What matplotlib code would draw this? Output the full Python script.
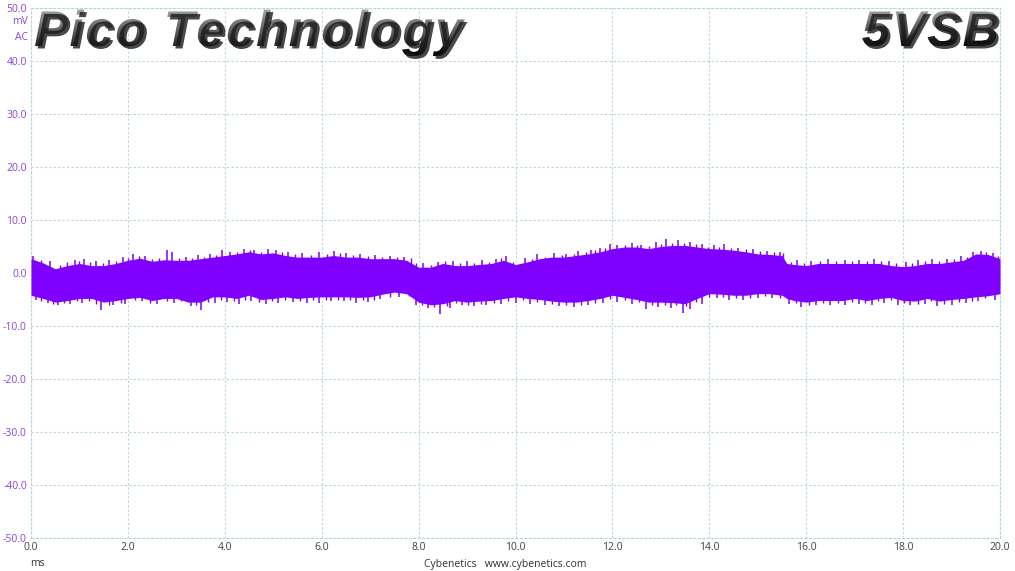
import matplotlib
matplotlib.use("Agg")
import matplotlib.pyplot as plt
import numpy as np
from matplotlib.textpath import TextPath
from matplotlib.font_manager import FontProperties, findfont, get_font
from matplotlib.patches import PathPatch
from matplotlib.path import Path
from matplotlib.transforms import Affine2D

# ---- data ----
t_env = [0.0, 0.25, 0.5, 0.75, 1.0, 1.25, 1.5, 1.75, 2.0, 2.25, 2.5, 2.75, 3.0, 3.25, 3.5, 3.75,
         4.0, 4.25, 4.5, 4.75, 5.0, 5.25, 5.5, 5.75, 6.0, 6.25, 6.5, 6.75, 7.0, 7.25, 7.5, 7.75,
         8.0, 8.25, 8.5, 8.75, 9.0, 9.25, 9.5, 9.75, 10.0, 10.25, 10.5, 10.75, 11.0, 11.25, 11.5,
         11.75, 12.0, 12.25, 12.5, 12.75, 13.0, 13.25, 13.5, 13.75, 14.0, 14.25, 14.5, 14.75,
         15.0, 15.25, 15.5, 15.6, 15.75, 16.0, 16.25, 16.5, 16.75, 17.0, 17.25, 17.5, 17.75,
         18.0, 18.25, 18.5, 18.75, 19.0, 19.25, 19.5, 19.75, 20.0]
upper_env = [2.7, 1.9, 0.8, 1.4, 1.8, 1.4, 1.4, 1.8, 2.4, 2.8, 2.2, 2.5, 2.4, 2.4, 2.7, 3.0,
             3.3, 3.6, 4.0, 3.6, 3.8, 3.3, 3.0, 3.0, 3.0, 3.3, 3.0, 3.0, 2.7, 2.7, 2.7, 2.4,
             1.1, 1.1, 1.8, 1.4, 1.4, 1.6, 1.8, 2.4, 1.6, 2.1, 2.7, 3.0, 3.0, 3.3, 3.6,
             4.0, 4.6, 4.9, 4.9, 4.6, 5.0, 5.2, 5.2, 4.9, 4.6, 4.5, 4.3, 4.0,
             3.6, 3.5, 3.3, 1.8, 1.6, 1.4, 1.8, 1.8, 1.8, 1.8, 1.8, 1.8, 1.4,
             1.2, 1.4, 1.8, 1.8, 2.1, 2.4, 3.6, 3.5, 2.7]
lower_env = [-4.2, -4.8, -5.5, -5.2, -4.8, -4.8, -5.5, -5.2, -4.8, -4.6, -5.2, -4.8, -4.8, -5.5, -5.5, -4.5,
             -4.5, -4.8, -4.2, -5.0, -4.8, -4.5, -4.8, -4.6, -4.5, -4.5, -4.5, -4.6, -4.5, -4.0, -3.6, -3.9,
             -5.5, -6.0, -5.8, -5.2, -5.5, -5.3, -5.2, -4.8, -4.5, -4.8, -5.0, -5.3, -5.5, -5.5, -5.2,
             -4.8, -4.2, -4.6, -5.0, -5.5, -5.5, -5.6, -5.8, -4.8, -3.9, -4.0, -4.2, -4.2,
             -3.9, -3.9, -4.2, -4.8, -5.2, -5.5, -5.2, -5.2, -5.2, -4.8, -5.2, -4.8, -4.6,
             -5.2, -5.3, -4.8, -5.3, -5.0, -4.8, -4.5, -4.3, -3.9]

# larger spikes (time ms, peak mV)
up_spikes = [(0.05, 3.3), (0.4, 2.3), (0.9, 2.5), (1.1, 2.6), (1.35, 2.2), (1.6, 2.4), (1.9, 3.0),
             (2.1, 3.5), (2.35, 3.2), (2.8, 4.3), (2.9, 3.9), (3.2, 3.1), (3.45, 3.4), (3.7, 3.6),
             (3.95, 4.3), (4.1, 4.0), (4.4, 4.6), (4.6, 4.3), (4.9, 4.5), (5.05, 4.4), (5.3, 3.9),
             (5.6, 3.7), (5.95, 4.0), (6.25, 4.2), (6.5, 3.8), (6.8, 3.6), (7.1, 3.4), (7.4, 3.3),
             (7.7, 3.0), (8.1, 1.8), (8.4, 2.0), (8.7, 2.3), (9.0, 2.2), (9.3, 2.5), (9.6, 2.7),
             (9.8, 3.2), (10.2, 2.8), (10.45, 3.5), (10.8, 3.7), (11.05, 3.6), (11.3, 4.1),
             (11.55, 4.4), (11.75, 4.8), (11.95, 5.5), (12.1, 5.3), (12.4, 5.6), (12.6, 5.3),
             (12.9, 5.8), (13.1, 6.5), (13.35, 6.2), (13.6, 5.9), (13.85, 5.4), (14.1, 5.3),
             (14.3, 5.4), (14.6, 4.8), (14.9, 4.5), (15.2, 4.2), (15.45, 3.9), (15.8, 2.4),
             (16.1, 2.3), (16.45, 2.6), (16.8, 2.5), (17.1, 2.4), (17.4, 2.6), (17.7, 2.3),
             (18.05, 2.0), (18.3, 2.5), (18.6, 2.6), (18.9, 2.7), (19.2, 3.2), (19.45, 4.0),
             (19.6, 4.2), (19.85, 3.8)]
lo_spikes = [(0.1, -5.0), (0.35, -5.6), (0.55, -6.0), (0.8, -5.8), (1.05, -5.6), (1.45, -7.0),
             (1.7, -6.0), (1.95, -5.8), (2.3, -5.2), (2.6, -5.8), (2.95, -5.7), (3.3, -6.3),
             (3.5, -6.9), (3.8, -5.6), (4.05, -5.4), (4.3, -5.8), (4.55, -5.2), (4.85, -5.9),
             (5.1, -5.6), (5.4, -5.4), (5.7, -5.7), (5.95, -5.6), (6.2, -5.3), (6.45, -5.3),
             (6.7, -5.6), (6.95, -5.4), (7.2, -4.9), (7.6, -4.6), (7.95, -6.0), (8.2, -6.6),
             (8.45, -7.7), (8.65, -6.6), (8.9, -6.0), (9.15, -6.3), (9.4, -6.0), (9.7, -5.8),
             (10.0, -5.6), (10.3, -5.8), (10.6, -6.0), (10.9, -6.2), (11.2, -6.4), (11.5, -6.1),
             (11.8, -5.6), (12.1, -5.4), (12.4, -5.8), (12.7, -6.8), (12.95, -6.4), (13.2, -6.6),
             (13.45, -7.6), (13.6, -6.8), (13.85, -5.8), (14.15, -4.8), (14.4, -5.0), (14.7, -5.1),
             (15.0, -4.8), (15.3, -4.8), (15.65, -5.8), (15.9, -6.5), (16.2, -6.1), (16.5, -6.0),
             (16.8, -6.1), (17.1, -5.8), (17.35, -6.0), (17.6, -5.7), (17.9, -6.0), (18.15, -6.1),
             (18.45, -5.8), (18.7, -6.3), (19.0, -6.0), (19.3, -5.6), (19.55, -5.3), (19.9, -5.0)]
# smaller spikes between them
up_spikes2 = [(0.2, 2.4), (0.6, 1.5), (0.75, 2.0), (1.0, 2.3), (1.22, 2.0), (1.48, 1.9), (1.75, 2.3),
              (2.0, 2.9), (2.22, 3.2), (2.5, 2.7), (2.65, 2.9), (3.05, 2.9), (3.32, 2.9), (3.58, 3.1),
              (3.82, 3.4), (4.25, 4.0), (4.52, 4.4), (4.75, 4.0), (5.18, 4.0), (5.45, 3.5), (5.78, 3.4),
              (6.1, 3.5), (6.38, 3.7), (6.65, 3.4), (6.95, 3.2), (7.25, 3.1), (7.55, 3.1), (7.85, 2.8),
              (7.95, 1.8), (8.25, 1.6), (8.55, 2.3), (8.85, 1.9), (9.15, 1.9), (9.45, 2.1), (9.7, 2.8),
              (9.95, 2.1), (10.35, 2.6), (10.6, 3.1), (10.95, 3.4), (11.2, 3.6), (11.45, 3.9),
              (11.65, 4.3), (11.85, 4.8), (12.25, 5.3), (12.5, 5.3), (12.75, 5.1), (13.0, 5.5),
              (13.22, 5.7), (13.48, 5.6), (13.72, 5.4), (13.98, 5.0), (14.2, 5.0), (14.45, 4.8),
              (14.75, 4.5), (15.05, 4.1), (15.33, 3.9), (15.52, 3.7), (15.68, 2.1), (15.95, 1.9),
              (16.28, 2.2), (16.62, 2.3), (16.95, 2.2), (17.25, 2.2), (17.55, 2.2), (17.85, 1.8),
              (18.18, 1.8), (18.45, 2.2), (18.75, 2.3), (19.05, 2.6), (19.32, 3.0), (19.72, 3.9),
              (19.95, 3.2)]
lo_spikes2 = [(0.2, -5.3), (0.45, -5.9), (0.68, -5.7), (0.95, -5.3), (1.2, -5.3), (1.35, -5.8),
              (1.6, -6.0), (1.85, -5.7), (2.15, -5.1), (2.45, -5.7), (2.8, -5.3), (3.1, -5.3),
              (3.4, -6.0), (3.65, -5.4), (3.92, -5.0), (4.18, -5.2), (4.42, -5.0), (4.7, -5.5),
              (4.98, -5.3), (5.25, -5.0), (5.55, -5.3), (5.82, -5.1), (6.08, -5.0), (6.33, -5.0),
              (6.58, -5.0), (6.85, -5.1), (7.08, -5.0), (7.4, -4.5), (7.8, -4.4), (8.08, -6.1),
              (8.32, -6.5), (8.58, -6.3), (8.78, -5.7), (9.02, -6.0), (9.28, -5.8), (9.55, -5.7),
              (9.85, -5.3), (10.15, -5.1), (10.45, -5.5), (10.75, -5.8), (11.05, -6.0), (11.35, -6.0),
              (11.65, -5.7), (11.95, -4.9), (12.25, -5.1), (12.55, -5.5), (12.82, -6.0), (13.08, -6.0),
              (13.32, -6.1), (13.52, -6.3), (13.72, -5.5), (14.0, -4.5), (14.28, -4.5), (14.55, -4.7),
              (14.85, -4.7), (15.15, -4.4), (15.45, -4.7), (15.78, -5.7), (16.05, -6.0), (16.35, -5.7),
              (16.65, -5.7), (16.95, -5.4), (17.22, -5.7), (17.48, -5.3), (17.75, -5.1), (18.02, -5.7),
              (18.3, -5.8), (18.58, -5.3), (18.85, -5.8), (19.15, -5.5), (19.42, -5.3), (19.7, -4.8)]

x_ticks = [0, 2, 4, 6, 8, 10, 12, 14, 16, 18, 20]
y_ticks = [-50, -40, -30, -20, -10, 0, 10, 20, 30, 40, 50]
title_left = "Pico Technology"
title_right = "5VSB"

TRACE = "#7f00ff"
GRID = "#b6d6e2"
YLAB = "#8a44dd"
TICKFONT = "Open Sans"

W_PX, H_PX = 1015, 571
fig = plt.figure(figsize=(W_PX / 100, H_PX / 100), dpi=100)
ax = fig.add_axes([31/W_PX, 1-538/H_PX, (1000-31)/W_PX, (538-8)/H_PX])

ax.fill_between(t_env, lower_env, upper_env, color=TRACE, lw=0, zorder=3)
for spikes, lw in ((up_spikes, 1.1), (up_spikes2, 1.0)):
    ts, vs = zip(*spikes)
    ax.vlines(ts, 0, vs, color=TRACE, lw=lw, zorder=3)
for spikes, lw in ((lo_spikes, 1.1), (lo_spikes2, 1.0)):
    ts, vs = zip(*spikes)
    ax.vlines(ts, vs, 0, color=TRACE, lw=lw, zorder=3)

ax.set_xlim(0, 20)
ax.set_ylim(-50, 50)
ax.set_xticks(x_ticks)
ax.set_yticks(y_ticks)
ax.set_xticklabels([f"{v:.1f}" for v in x_ticks], fontsize=7.5, color="#404040", family=TICKFONT)
ax.set_yticklabels([f"{v:.1f}" for v in y_ticks], fontsize=7.5, color=YLAB, family=TICKFONT)
ax.tick_params(length=0, pad=3)
ax.grid(True, color=GRID, lw=0.8, linestyle=(0, (2, 2)), zorder=1)
for s in ax.spines.values():
    s.set_color(GRID)
    s.set_linewidth(0.8)
    s.set_linestyle((0, (2, 2)))

# unit labels
fig.text(28/W_PX, 1-22/H_PX, "mV", fontsize=7.5, color=YLAB, ha="right", va="center", family=TICKFONT)
fig.text(28/W_PX, 1-37/H_PX, "AC", fontsize=7.5, color=YLAB, ha="right", va="center", family=TICKFONT)
fig.text(37/W_PX, 1-564/H_PX, "ms", fontsize=7.5, color="#303030", ha="center", va="center", family=TICKFONT)
fig.text(505/W_PX, 1-564/H_PX, "Cybenetics   www.cybenetics.com", fontsize=7.5, color="#303030",
         ha="center", va="center", family=TICKFONT)

# ---- big titles: bold italic sans with letter spacing, metallic gradient + drop shadow ----
tax = fig.add_axes([0, 0, 1, 1], zorder=5)
tax.set_xlim(0, W_PX)
tax.set_ylim(0, H_PX)
tax.axis("off")
tax.patch.set_alpha(0)

fp = FontProperties(family="Liberation Sans", weight="bold", style="italic")
ft = get_font(findfont(fp))
ft.set_size(100, 72)  # 100 px em

def advance(ch):
    g = ft.load_char(ord(ch))
    return g.linearHoriAdvance / 65536 / 100.0  # in em units

CAP = 36.0
EM = CAP / 0.716
BASE = H_PX - 46.0

def build_path(text, tracking):
    paths, x = [], 0.0
    for ch in text:
        if ch != " ":
            tp = TextPath((0, 0), ch, size=1, prop=fp)
            paths.append(Affine2D().scale(EM).translate(x, 0).transform_path(tp))
        x += advance(ch) * EM + tracking
    return Path.make_compound_path(*paths)

w0 = build_path(title_left, 0.0).get_extents().width
TRACK = (430.0 - w0) / (len(title_left) - 1)

def draw_title(text, x_left=None, x_right=None):
    p = build_path(text, TRACK)
    ext = p.get_extents()
    dx = (x_left - ext.x0) if x_left is not None else (x_right - ext.x1)
    p = Affine2D().translate(dx, BASE).transform_path(p)
    shadow = Affine2D().translate(2.5, -2.5).transform_path(p)
    tax.add_patch(PathPatch(shadow, facecolor="#1a1a1a", edgecolor="none", alpha=0.8))
    face = PathPatch(p, facecolor="none", edgecolor="none")
    tax.add_patch(face)
    e = p.get_extents()
    grad = np.linspace(0.45, 1.0, 64).reshape(-1, 1)
    im = tax.imshow(grad, cmap="Greys", vmin=0.0, vmax=1.0, aspect="auto",
                    extent=(e.x0, e.x1, e.y0, e.y1), origin="upper", interpolation="bilinear")
    im.set_clip_path(face)

draw_title(title_left, x_left=35.0)
draw_title(title_right, x_right=997.0)
tax.set_xlim(0, W_PX)
tax.set_ylim(0, H_PX)

fig.savefig("out.png", dpi=100)
